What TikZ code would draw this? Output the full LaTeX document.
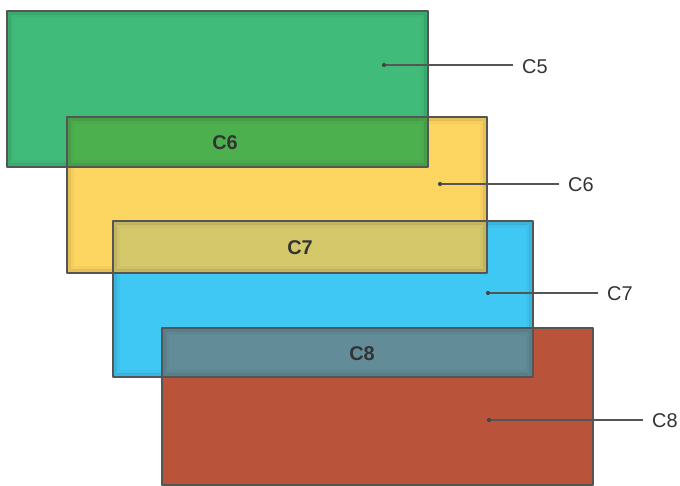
\documentclass[tikz,border=0pt]{standalone}
\usepackage{fontspec}
\setmainfont{Liberation Sans}
\definecolor{cfive}{HTML}{41BB7A}
\definecolor{csix}{HTML}{FDD561}
\definecolor{cseven}{HTML}{40C8F4}
\definecolor{ceight}{HTML}{B9543B}
\definecolor{mixsix}{HTML}{4DB04F}
\definecolor{mixseven}{HTML}{D5C86A}
\definecolor{mixeight}{HTML}{628C98}
\definecolor{edgegray}{HTML}{555555}
\definecolor{txtgray}{HTML}{333333}
% one coloured layer: fill and a soft darker rim inside
\newcommand{\layerfill}[5]{%
  \fill[#5] (#1,#2) rectangle (#3,#4);
  \draw[#5!70!black, opacity=.3, line width=3pt] ({#1+2},{#2+2}) rectangle ({#3-2},{#4-2});
  \draw[#5!80!black, opacity=.15, line width=3pt] ({#1+5},{#2+5}) rectangle ({#3-5},{#4-5});
}
\begin{document}
\begin{tikzpicture}[x=0.03cm,y=-0.03cm, line join=round, line cap=round,
    lead/.style={edgegray, line width=0.9pt},
    tag/.style={txtgray, font=\fontsize{17}{19}\selectfont, anchor=west, inner sep=0pt},
    striptag/.style={txtgray, font=\fontsize{17}{19}\selectfont\bfseries, inner sep=0pt}]
    \useasboundingbox (0,0) rectangle (680,486);
    % the four layers, lowest first
    \fill[ceight] (162,328) rectangle (593,485);
    \layerfill{113}{221}{533}{377}{cseven}
    \layerfill{67}{117}{487}{273}{csix}
    \layerfill{7}{11}{428}{167}{cfive}
    % overlap strips
    \layerfill{67}{117}{428}{167}{mixsix}
    \layerfill{113}{221}{487}{273}{mixseven}
    \layerfill{162}{328}{533}{377}{mixeight}
    % outlines
    \foreach \xa/\ya/\xb/\yb in {162/328/593/485, 113/221/533/377, 67/117/487/273, 7/11/428/167}
        \draw[edgegray, line width=0.9pt] (\xa,\ya) rectangle (\xb,\yb);
    % strip labels
    \node[striptag] (s6) at (225,143) {C6};
    \node[striptag] (s7) at (300,248) {C7};
    \node[striptag] (s8) at (362,354) {C8};
    % leaders and side labels
    \coordinate (d5) at (384,65);
    \coordinate (d6) at (440,184);
    \coordinate (d7) at (488,293);
    \coordinate (d8) at (489,420);
    \node[tag] (l5) at (522,67) {C5};
    \node[tag] (l6) at (568,185) {C6};
    \node[tag] (l7) at (607,294) {C7};
    \node[tag] (l8) at (652,421) {C8};
    \foreach \n in {5,6,7,8} {
        \draw[lead] (d\n) -- ([xshift=-8pt]d\n -| l\n.west);
        \fill[edgegray!80!black] (d\n) circle (1.8pt);
    }
\end{tikzpicture}
\end{document}
